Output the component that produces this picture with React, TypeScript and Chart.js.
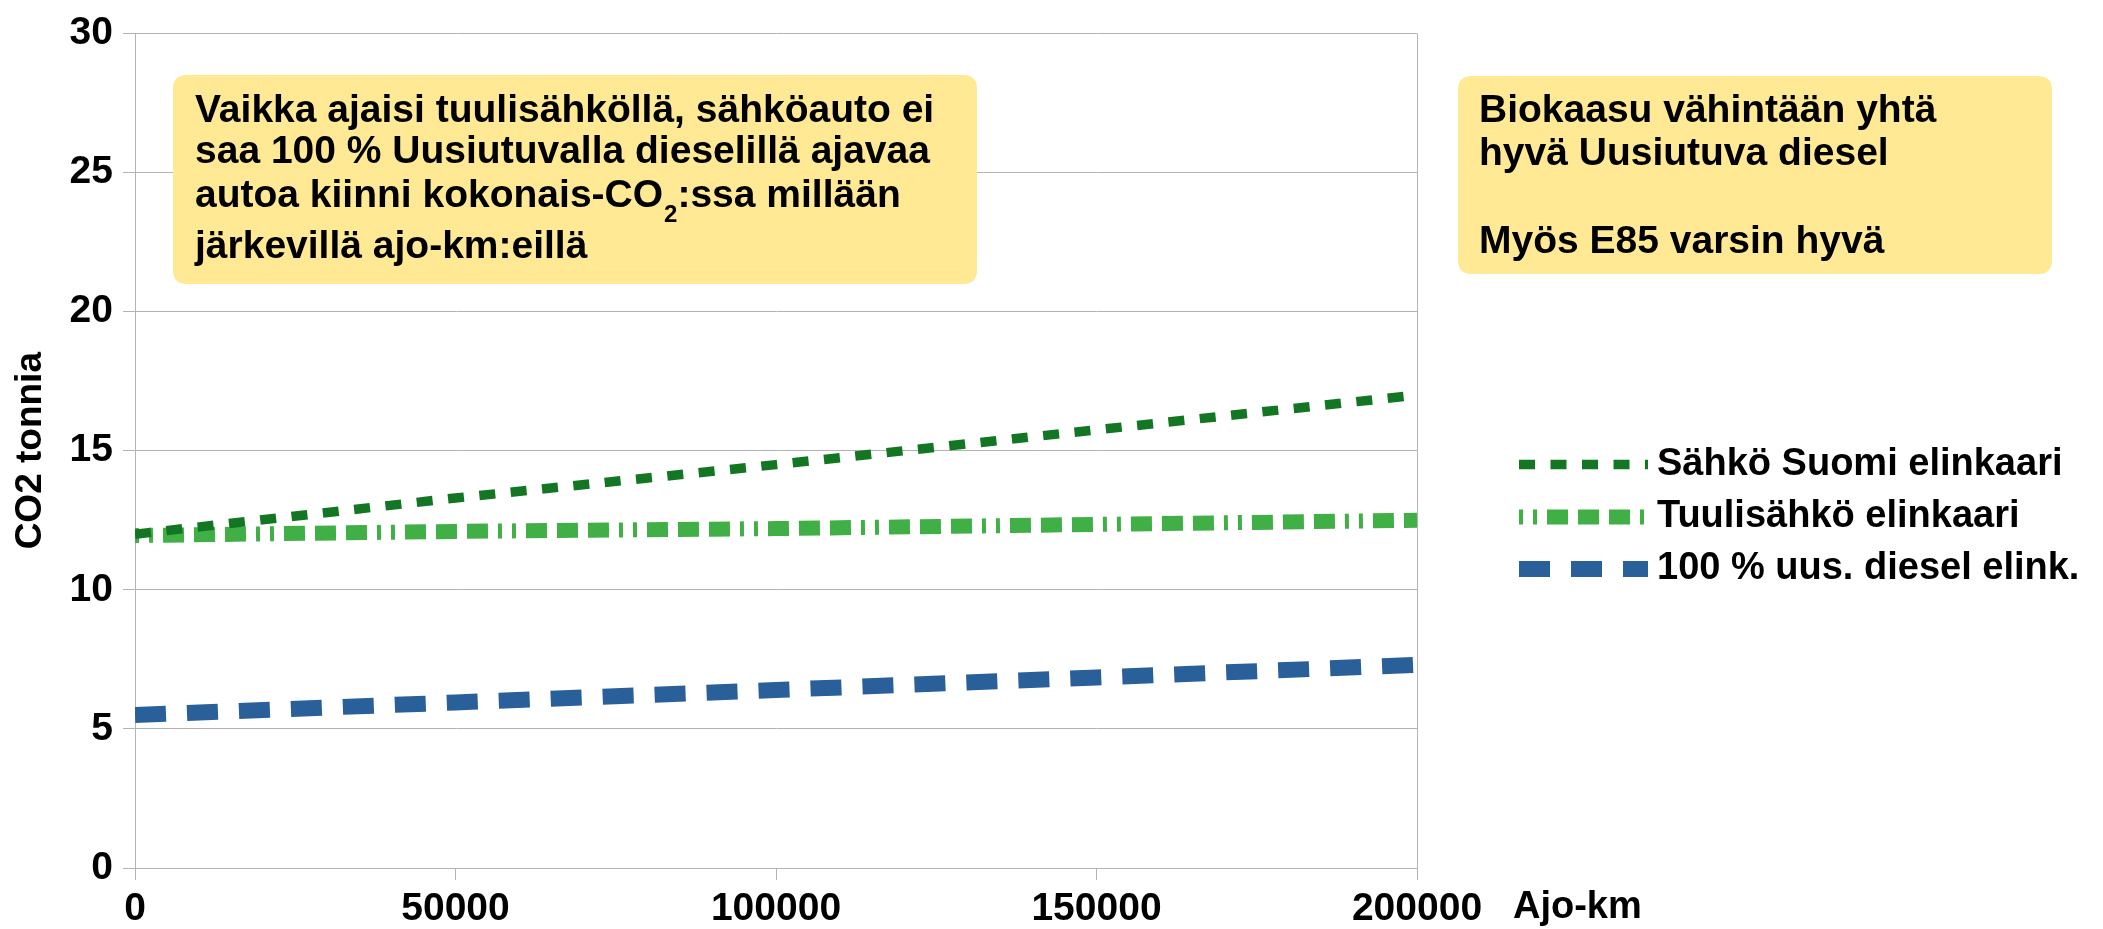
import React, { useEffect, useRef } from "react";
import { Chart, registerables } from "chart.js";

Chart.register(...registerables);

// ---- data ----
const kmValues = [0, 50000, 100000, 150000, 200000];
const sahkoSuomi = [12.0, 13.3, 14.5, 15.75, 17.0];
const tuulisahko = [11.95, 12.1, 12.2, 12.35, 12.5];
const uusDiesel = [5.5, 5.95, 6.4, 6.85, 7.3];
const seriesNames = ["Sähkö Suomi elinkaari", "Tuulisähkö elinkaari", "100 % uus. diesel elink."];
const yAxisTitle = "CO2 tonnia";
const xAxisTitle = "Ajo-km";
const leftNote = [
  "Vaikka ajaisi tuulisähköllä, sähköauto ei",
  "saa 100 % Uusiutuvalla dieselillä ajavaa",
  "autoa kiinni kokonais-CO₂:ssa millään",
  "järkevillä ajo-km:eillä",
];
const rightNote = ["Biokaasu vähintään yhtä", "hyvä Uusiutuva diesel", "", "Myös E85 varsin hyvä"];

// ---- styles ----
const FONT = '"Liberation Sans", Arial, sans-serif';
const GRID = "#b3b3b3";
const NOTE_BG = "#FFE994";

function roundRect(ctx: CanvasRenderingContext2D, x: number, y: number, w: number, h: number, r: number) {
  ctx.beginPath();
  ctx.moveTo(x + r, y);
  ctx.lineTo(x + w - r, y);
  ctx.quadraticCurveTo(x + w, y, x + w, y + r);
  ctx.lineTo(x + w, y + h - r);
  ctx.quadraticCurveTo(x + w, y + h, x + w - r, y + h);
  ctx.lineTo(x + r, y + h);
  ctx.quadraticCurveTo(x, y + h, x, y + h - r);
  ctx.lineTo(x, y + r);
  ctx.quadraticCurveTo(x, y, x + r, y);
  ctx.closePath();
}

function drawRich(ctx: CanvasRenderingContext2D, text: string, x: number, y: number, size: number) {
  const parts = text.split("₂");
  let cx = x;
  parts.forEach((p, i) => {
    ctx.font = `bold ${size}px ${FONT}`;
    ctx.fillText(p, cx, y);
    cx += ctx.measureText(p).width;
    if (i < parts.length - 1) {
      ctx.font = `bold 24px ${FONT}`;
      ctx.fillText("2", cx + 1, y + 15);
      cx += ctx.measureText("2").width + 1;
    }
  });
}

const notesPlugin = {
  id: "notesPlugin",
  afterDraw(chart: any) {
    const ctx: CanvasRenderingContext2D = chart.ctx;
    ctx.save();
    // left note
    ctx.fillStyle = NOTE_BG;
    roundRect(ctx, 173, 75, 804, 209, 14);
    ctx.fill();
    ctx.fillStyle = "#000";
    ctx.textBaseline = "alphabetic";
    ctx.textAlign = "left";
    const leftBase = [122, 163, 207, 258];
    leftNote.forEach((t, i) => drawRich(ctx, t, 195, leftBase[i], 39));
    // right note
    ctx.fillStyle = NOTE_BG;
    roundRect(ctx, 1458, 76, 594, 198, 14);
    ctx.fill();
    ctx.fillStyle = "#000";
    const rightBase = [122, 165, 209, 253];
    rightNote.forEach((t, i) => {
      if (t) drawRich(ctx, t, 1479, rightBase[i], 39);
    });
    // legend
    const rows = [464.5, 517, 569];
    chart.data.datasets.forEach((ds: any, i: number) => {
      const y = rows[i];
      ctx.save();
      ctx.strokeStyle = ds.borderColor;
      ctx.lineWidth = ds.borderWidth;
      ctx.lineCap = "butt";
      ctx.setLineDash(ds.borderDash || []);
      ctx.beginPath();
      ctx.moveTo(1519, y);
      ctx.lineTo(1648, y);
      ctx.stroke();
      ctx.restore();
      ctx.fillStyle = "#000";
      ctx.font = `bold 38px ${FONT}`;
      ctx.textBaseline = "middle";
      ctx.fillText(ds.label, 1657, y);
    });
    // x axis title
    ctx.textBaseline = "alphabetic";
    ctx.font = `bold 38px ${FONT}`;
    ctx.fillText(xAxisTitle, 1513, 918);
    ctx.restore();
  },
};

export default function App() {
  const canvasRef = useRef<HTMLCanvasElement | null>(null);

  useEffect(() => {
    document.body.style.margin = "0";
    const canvas = canvasRef.current;
    if (!canvas) return;
    const mk = (vals: number[]) => kmValues.map((x, i) => ({ x, y: vals[i] }));
    const chart = new Chart(canvas, {
      type: "line",
      data: {
        datasets: [
          {
            label: seriesNames[0],
            data: mk(sahkoSuomi),
            borderColor: "#127622",
            borderWidth: 9.5,
            borderDash: [16, 15.5],
            borderCapStyle: "butt",
            pointRadius: 0,
            fill: false,
            tension: 0,
          },
          {
            label: seriesNames[1],
            data: mk(tuulisahko),
            borderColor: "#3FAF46",
            borderWidth: 15,
            borderDash: [4, 10, 4, 10, 21, 10, 21, 10, 21, 10],
            borderCapStyle: "butt",
            pointRadius: 0,
            fill: false,
            tension: 0,
          },
          {
            label: seriesNames[2],
            data: mk(uusDiesel),
            borderColor: "#2A6099",
            borderWidth: 16,
            borderDash: [31, 21],
            borderCapStyle: "butt",
            pointRadius: 0,
            fill: false,
            tension: 0,
          },
        ],
      } as any,
      options: {
        animation: false,
        responsive: true,
        maintainAspectRatio: false,
        devicePixelRatio: 1,
        layout: { padding: { top: 25, right: 686, bottom: 0, left: 0 } },
        plugins: { legend: { display: false }, tooltip: { enabled: false } },
        scales: {
          x: {
            type: "linear",
            min: 0,
            max: 200000,
            ticks: {
              stepSize: 50000,
              color: "#000",
              font: { family: FONT, size: 39, weight: "bold" },
              padding: 6,
              maxRotation: 0,
              autoSkip: false,
              callback: (v: any) => String(v),
            },
            grid: {
              color: (c: any) =>
                c.tick && (c.tick.value === 0 || c.tick.value === 200000) ? GRID : "rgba(0,0,0,0)",
              tickColor: GRID,
              tickLength: 12,
              lineWidth: 1,
            },
            border: { color: GRID },
            afterFit: (s: any) => {
              s.height = 61;
            },
          },
          y: {
            min: 0,
            max: 30,
            ticks: {
              stepSize: 5,
              color: "#000",
              font: { family: FONT, size: 39, weight: "bold" },
              padding: 10,
            },
            grid: { color: GRID, tickLength: 12, lineWidth: 1 },
            border: { color: GRID },
            title: {
              display: true,
              text: yAxisTitle,
              color: "#000",
              font: { family: FONT, size: 37, weight: "bold", lineHeight: 1 },
              padding: { top: 12, bottom: 0 },
            },
            afterFit: (s: any) => {
              s.width = 135;
            },
          },
        },
      } as any,
      plugins: [notesPlugin],
    });
    return () => chart.destroy();
  }, []);

  return (
    <div style={{ position: "relative", width: "2103px", height: "929px" }}>
      <canvas ref={canvasRef} />
    </div>
  );
}
